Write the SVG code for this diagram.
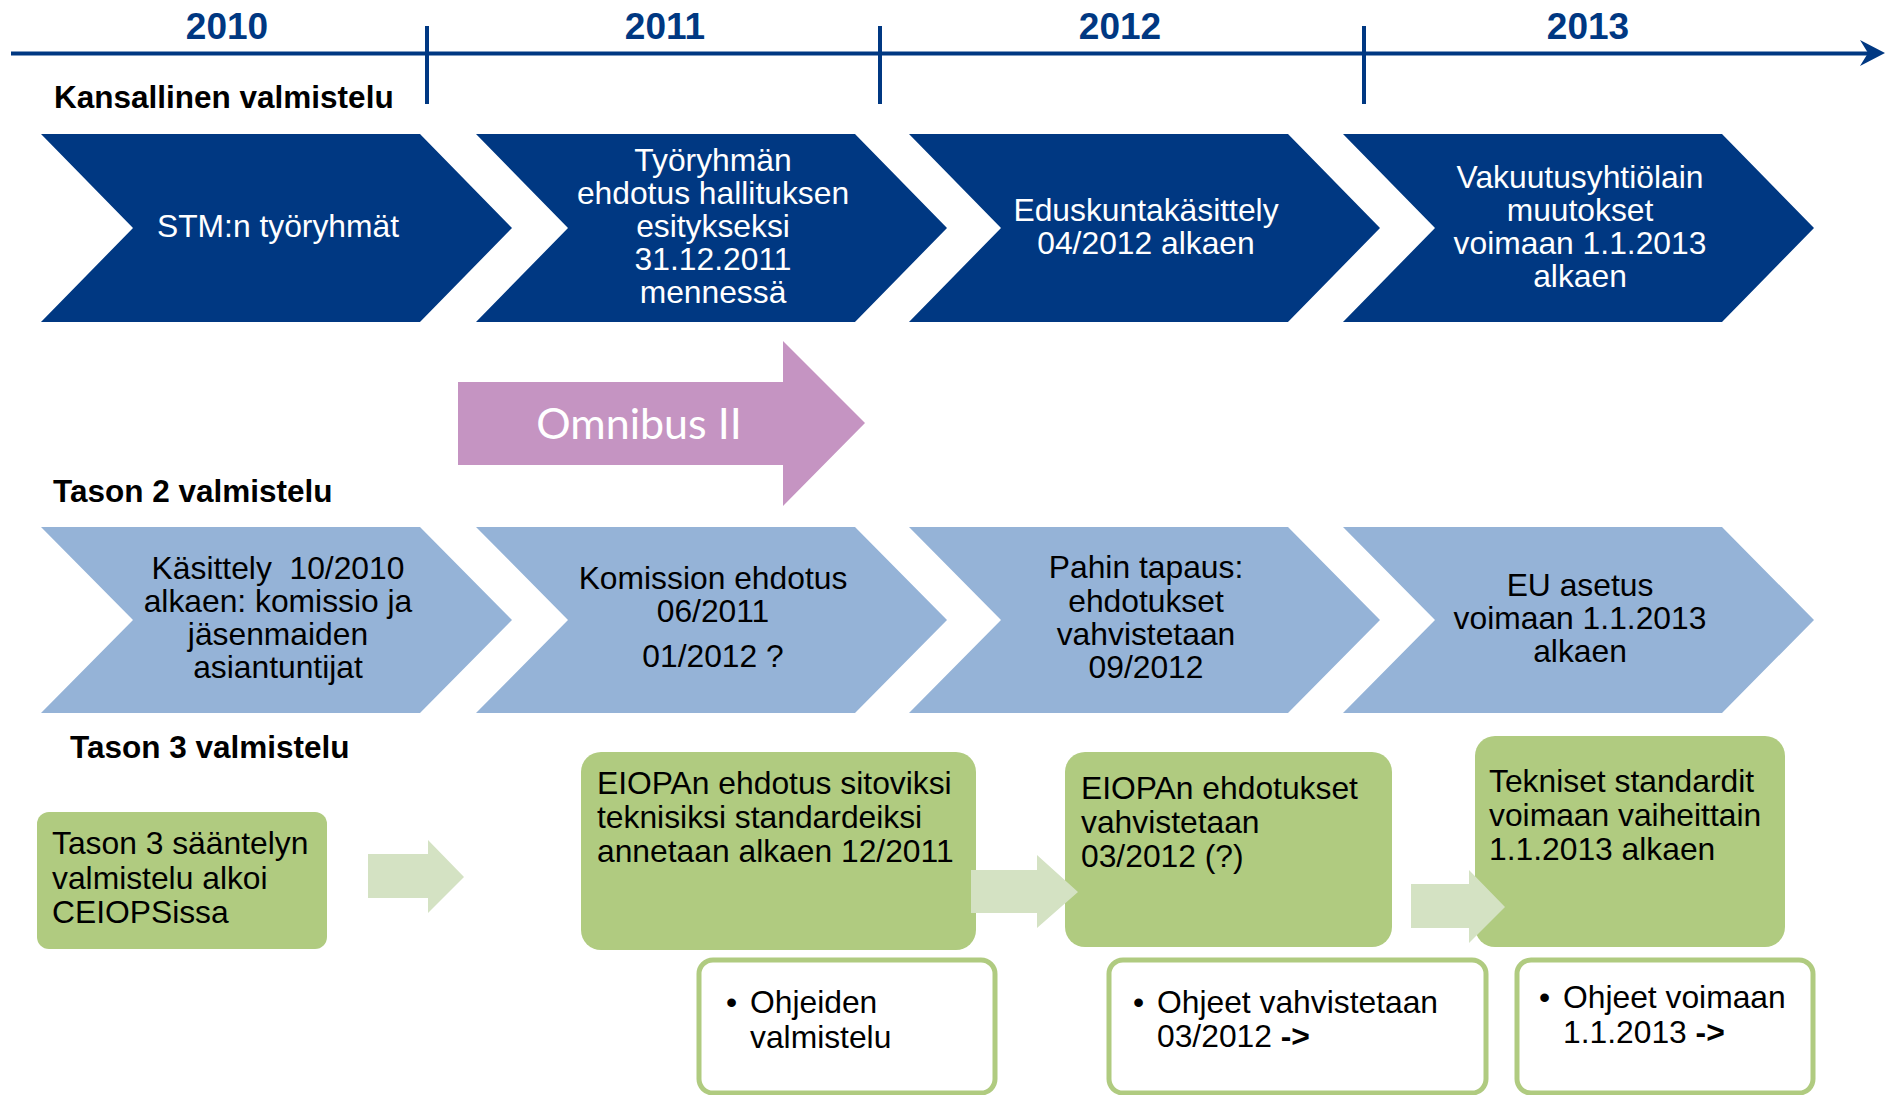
<svg xmlns="http://www.w3.org/2000/svg" width="1889" height="1095" viewBox="0 0 1889 1095">
<defs>
<style>
text{font-family:"Liberation Sans",Arial,sans-serif;}
.yr{font-size:37px;font-weight:bold;fill:#003882;text-anchor:middle;}
.sec{font-size:31.5px;font-weight:bold;fill:#000;}
.w{font-size:31.8px;fill:#fff;text-anchor:middle;}
.k{font-size:31.8px;fill:#000;text-anchor:middle;}
.g{font-size:31.8px;fill:#000;}
.dark{fill:#003882;}
.light{fill:#95b3d7;}
.green{fill:#b0cb80;}
.fade{fill:#d4e2c3;}
.wb{fill:#fff;stroke:#b0cb80;stroke-width:5;}
.tl{stroke:#003882;stroke-width:4;fill:none;}
</style>
<path id="chev" d="M0,0 H379 L471,94 L379,188 H0 L92,94 Z"/>
<path id="chev2" d="M0,0 H379 L471,93 L379,186 H0 L92,93 Z"/>
</defs>
<rect width="1889" height="1095" fill="#fff"/>

<g id="timeline">
<line class="tl" x1="11" y1="53.5" x2="1872" y2="53.5"/>
<path d="M1885,53 L1860,40 L1868,53 L1860,66 Z" fill="#003882"/>
<line class="tl" x1="427" y1="26" x2="427" y2="104"/>
<line class="tl" x1="880" y1="26" x2="880" y2="104"/>
<line class="tl" x1="1364" y1="26" x2="1364" y2="104"/>
<text class="yr" x="227" y="39">2010</text>
<text class="yr" x="665" y="39">2011</text>
<text class="yr" x="1120" y="39">2012</text>
<text class="yr" x="1588" y="39">2013</text>
</g>

<g id="labels">
<text class="sec" x="54" y="108">Kansallinen valmistelu</text>
<text class="sec" x="53" y="502">Tason 2 valmistelu</text>
<text class="sec" x="70" y="758">Tason 3 valmistelu</text>
</g>

<g id="k1"><use href="#chev" class="dark" x="41" y="134"/>
<text class="w" x="278" y="237">STM:n työryhmät</text></g>
<g id="k2"><use href="#chev" class="dark" x="476" y="134"/>
<text class="w" x="713"><tspan x="713" y="171">Työryhmän</tspan><tspan x="713" y="204">ehdotus hallituksen</tspan><tspan x="713" y="237">esitykseksi</tspan><tspan x="713" y="270">31.12.2011</tspan><tspan x="713" y="303">mennessä</tspan></text></g>
<g id="k3"><use href="#chev" class="dark" x="909" y="134"/>
<text class="w"><tspan x="1146" y="221">Eduskuntakäsittely</tspan><tspan x="1146" y="254">04/2012 alkaen</tspan></text></g>
<g id="k4"><use href="#chev" class="dark" x="1343" y="134"/>
<text class="w"><tspan x="1580" y="188">Vakuutusyhtiölain</tspan><tspan x="1580" y="221">muutokset</tspan><tspan x="1580" y="254">voimaan 1.1.2013</tspan><tspan x="1580" y="287">alkaen</tspan></text></g>

<g id="omnibus">
<path d="M458,382 H783 V341 L865,423 L783,506 V465 H458 Z" fill="#c594c2"/>
<text x="639" y="439" font-size="43" fill="#fff" text-anchor="middle" style="font-family:Lato,'Open Sans',sans-serif">Omnibus II</text>
</g>

<g id="t1"><use href="#chev2" class="light" x="41" y="527"/>
<text class="k"><tspan x="278" y="579" xml:space="preserve">Käsittely  10/2010</tspan><tspan x="278" y="612">alkaen: komissio ja</tspan><tspan x="278" y="645">jäsenmaiden</tspan><tspan x="278" y="678">asiantuntijat</tspan></text></g>
<g id="t2"><use href="#chev2" class="light" x="476" y="527"/>
<text class="k"><tspan x="713" y="589">Komission ehdotus</tspan><tspan x="713" y="622">06/2011</tspan><tspan x="713" y="667">01/2012 ?</tspan></text></g>
<g id="t3"><use href="#chev2" class="light" x="909" y="527"/>
<text class="k"><tspan x="1146" y="578">Pahin tapaus:</tspan><tspan x="1146" y="612">ehdotukset</tspan><tspan x="1146" y="645">vahvistetaan</tspan><tspan x="1146" y="678">09/2012</tspan></text></g>
<g id="t4"><use href="#chev2" class="light" x="1343" y="527"/>
<text class="k"><tspan x="1580" y="596">EU asetus</tspan><tspan x="1580" y="629">voimaan 1.1.2013</tspan><tspan x="1580" y="662">alkaen</tspan></text></g>

<g id="g1"><rect class="green" x="37" y="812" width="290" height="137" rx="12"/>
<text class="g"><tspan x="52" y="854">Tason 3 sääntelyn</tspan><tspan x="52" y="889">valmistelu alkoi</tspan><tspan x="52" y="923">CEIOPSissa</tspan></text></g>
<g id="g2"><rect class="green" x="581" y="752" width="395" height="198" rx="20"/>
<text class="g"><tspan x="597" y="794">EIOPAn ehdotus sitoviksi</tspan><tspan x="597" y="828">teknisiksi standardeiksi</tspan><tspan x="597" y="862">annetaan alkaen 12/2011</tspan></text></g>
<g id="g3"><rect class="green" x="1065" y="752" width="327" height="195" rx="20"/>
<text class="g"><tspan x="1081" y="799">EIOPAn ehdotukset</tspan><tspan x="1081" y="833">vahvistetaan</tspan><tspan x="1081" y="867">03/2012 (?)</tspan></text></g>
<g id="g4"><rect class="green" x="1475" y="736" width="310" height="211" rx="20"/>
<text class="g"><tspan x="1489" y="792">Tekniset standardit</tspan><tspan x="1489" y="826">voimaan vaiheittain</tspan><tspan x="1489" y="860">1.1.2013 alkaen</tspan></text></g>

<g id="connectors">
<path class="fade" d="M368,854 H428 V840 L464,877 L428,913 V898 H368 Z"/>
<path class="fade" d="M971,870 H1037 V855 L1078,892 L1037,928 V913 H971 Z"/>
<path class="fade" d="M1411,884 H1469 V870 L1505,907 L1469,943 V928 H1411 Z"/>
</g>

<g id="w1"><rect class="wb" x="699" y="960" width="296" height="133" rx="14"/>
<text class="g"><tspan x="726" y="1013">•</tspan><tspan x="750" y="1013">Ohjeiden</tspan><tspan x="750" y="1048">valmistelu</tspan></text></g>
<g id="w2"><rect class="wb" x="1109" y="960" width="377" height="133" rx="14"/>
<text class="g"><tspan x="1133" y="1013">•</tspan><tspan x="1157" y="1013">Ohjeet vahvistetaan</tspan><tspan x="1157" y="1047">03/2012 <tspan font-weight="bold">-&gt;</tspan></tspan></text></g>
<g id="w3"><rect class="wb" x="1517" y="960" width="296" height="133" rx="14"/>
<text class="g"><tspan x="1539" y="1008">•</tspan><tspan x="1563" y="1008">Ohjeet voimaan</tspan><tspan x="1563" y="1043">1.1.2013 <tspan font-weight="bold">-&gt;</tspan></tspan></text></g>
</svg>
